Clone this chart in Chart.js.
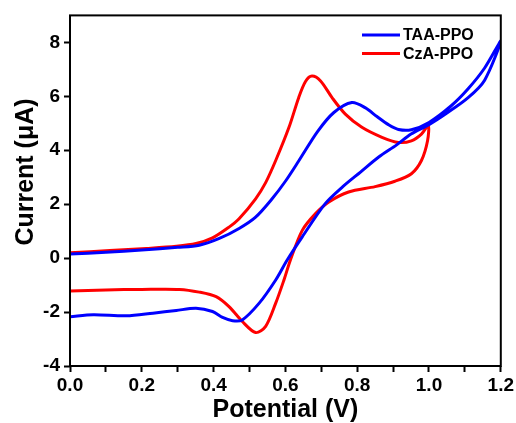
<!DOCTYPE html>
<html>
<head>
<meta charset="utf-8">
<script src="https://cdn.jsdelivr.net/npm/chart.js@4.4.7/dist/chart.umd.min.js"></script>
<style>
  html, body { margin: 0; padding: 0; background: #fff; }
  #wrap { width: 516px; height: 423px; position: relative; }
</style>
</head>
<body>
<div id="wrap"><canvas id="cv"></canvas></div>
<script>
// TAA-PPO cyclic voltammogram (forward scan, then reverse)
const taaPotential = [0, 0.1, 0.2, 0.3, 0.36, 0.416, 0.471, 0.517, 0.563, 0.6, 0.637, 0.69, 0.735, 0.785, 0.822, 0.855, 0.887, 0.915, 0.951, 1.0, 1.062, 1.109, 1.155, 1.2,
  1.155, 1.109, 1.05, 1.0, 0.95, 0.91, 0.86, 0.81, 0.76, 0.711, 0.647, 0.605, 0.573, 0.527, 0.48, 0.453, 0.425, 0.397, 0.351, 0.296, 0.231, 0.157, 0.065, 0];
const taaCurrent = [0.15, 0.22, 0.3, 0.4, 0.48, 0.73, 1.1, 1.52, 2.2, 2.85, 3.6, 4.7, 5.4, 5.77, 5.58, 5.25, 4.95, 4.77, 4.76, 5.03, 5.65, 6.28, 7.05, 8.05,
  6.6, 5.95, 5.38, 4.95, 4.6, 4.2, 3.75, 3.2, 2.65, 2.02, 0.79, -0.07, -0.81, -1.67, -2.29, -2.32, -2.2, -1.98, -1.86, -1.94, -2.04, -2.14, -2.1, -2.17];

// CzA-PPO cyclic voltammogram
const czaPotential = [0, 0.111, 0.213, 0.296, 0.351, 0.397, 0.443, 0.471, 0.517, 0.545, 0.573, 0.61, 0.637, 0.656, 0.674, 0.698, 0.73, 0.767, 0.813, 0.869, 0.915, 0.951, 0.979, 0.998,
  0.996, 0.979, 0.951, 0.905, 0.85, 0.776, 0.721, 0.684, 0.647, 0.614, 0.596, 0.573, 0.545, 0.517, 0.48, 0.443, 0.407, 0.36, 0.305, 0.2, 0.1, 0];
const czaCurrent = [0.2, 0.28, 0.36, 0.44, 0.54, 0.75, 1.15, 1.46, 2.2, 2.8, 3.62, 4.85, 5.95, 6.55, 6.75, 6.57, 5.95, 5.34, 4.85, 4.48, 4.29, 4.35, 4.6, 4.92,
  4.35, 3.62, 3.13, 2.85, 2.65, 2.45, 2.08, 1.65, 1.03, -0.07, -0.81, -1.67, -2.53, -2.76, -2.35, -1.8, -1.43, -1.26, -1.16, -1.16, -1.18, -1.22];

const seriesLabels = ['TAA-PPO', 'CzA-PPO'];
const seriesColors = ['#0000ff', '#ff0000'];

const xTickValues = [0, 0.1, 0.2, 0.3, 0.4, 0.5, 0.6, 0.7, 0.8, 0.9, 1.0, 1.1, 1.2];
const xTickLabels = ['0.0', '', '0.2', '', '0.4', '', '0.6', '', '0.8', '', '1.0', '', '1.2'];
const yTickValues = [-4, -2, 0, 2, 4, 6, 8];
const yTickLabels = ['-4', '-2', '0', '2', '4', '6', '8'];

const FONT = '"Liberation Sans", Arial, sans-serif';

function toPoints(xs, ys) {
  return xs.map((x, i) => ({ x: x, y: ys[i] }));
}

// frame, y title and legend drawn on top of the plot
const framePlugin = {
  id: 'frame',
  afterDatasetsDraw(chart) {
    const { ctx, chartArea: a } = chart;
    ctx.save();
    ctx.strokeStyle = '#000';
    ctx.lineWidth = 2;
    ctx.strokeRect(a.left, a.top, a.right - a.left, a.bottom - a.top);
    ctx.restore();
  },
  afterDraw(chart) {
    const { ctx } = chart;
    ctx.save();
    // y axis title
    ctx.translate(26, 172);
    ctx.rotate(-Math.PI / 2);
    ctx.fillStyle = '#000';
    ctx.font = 'bold 25px ' + FONT;
    ctx.textAlign = 'center';
    ctx.textBaseline = 'middle';
    ctx.fillText('Current (\u03bcA)', 0, 0);
    ctx.restore();

    // legend
    ctx.save();
    ctx.font = 'bold 16px ' + FONT;
    ctx.textBaseline = 'middle';
    ctx.textAlign = 'left';
    const rows = [35, 53.5];
    chart.data.datasets.forEach((ds, i) => {
      const y = rows[i];
      ctx.strokeStyle = ds.borderColor;
      ctx.lineWidth = 3;
      ctx.beginPath();
      ctx.moveTo(362, y);
      ctx.lineTo(400, y);
      ctx.stroke();
      ctx.fillStyle = '#000';
      ctx.fillText(ds.label, 403, y + 1);
    });
    ctx.restore();
  }
};

new Chart(document.getElementById('cv'), {
  type: 'scatter',
  data: {
    datasets: [
      {
        label: seriesLabels[0],
        data: toPoints(taaPotential, taaCurrent),
        borderColor: seriesColors[0],
        backgroundColor: seriesColors[0],
        showLine: true,
        borderWidth: 3,
        pointRadius: 0,
        tension: 0.3,
      },
      {
        label: seriesLabels[1],
        data: toPoints(czaPotential, czaCurrent),
        borderColor: seriesColors[1],
        backgroundColor: seriesColors[1],
        showLine: true,
        borderWidth: 3,
        pointRadius: 0,
        tension: 0.3,
      },
    ],
  },
  options: {
    responsive: true,
    maintainAspectRatio: false,
    animation: false,
    layout: { padding: { top: 14, right: 13, left: 0, bottom: 0 } },
    plugins: {
      legend: { display: false },
      tooltip: { enabled: false },
    },
    scales: {
      x: {
        type: 'linear',
        min: 0,
        max: 1.2,
        afterFit: (s) => { s.height = 57; },
        afterBuildTicks: (s) => { s.ticks = xTickValues.map(v => ({ value: v })); },
        border: { display: false },
        grid: {
          drawOnChartArea: false,
          drawTicks: true,
          tickLength: 6,
          tickColor: '#000',
          tickWidth: 2,
        },
        ticks: {
          color: '#000',
          padding: 2,
          maxRotation: 0,
          autoSkip: false,
          font: { family: FONT, size: 19, weight: 'bold' },
          callback: (v, i) => xTickLabels[i],
        },
        title: {
          display: true,
          text: 'Potential (V)',
          color: '#000',
          padding: { top: 0, bottom: 0 },
          font: { family: FONT, size: 25, weight: 'bold', lineHeight: 1.0 },
        },
      },
      y: {
        type: 'linear',
        min: -4,
        max: 9,
        afterFit: (s) => { s.width = 70; },
        afterBuildTicks: (s) => { s.ticks = yTickValues.map(v => ({ value: v })); },
        border: { display: false },
        grid: {
          drawOnChartArea: false,
          drawTicks: true,
          tickLength: 6,
          tickColor: '#000',
          tickWidth: 2,
        },
        ticks: {
          color: '#000',
          padding: 4,
          font: { family: FONT, size: 19, weight: 'bold' },
          callback: (v, i) => yTickLabels[i],
        },
      },
    },
  },
  plugins: [framePlugin],
});
</script>
</body>
</html>
